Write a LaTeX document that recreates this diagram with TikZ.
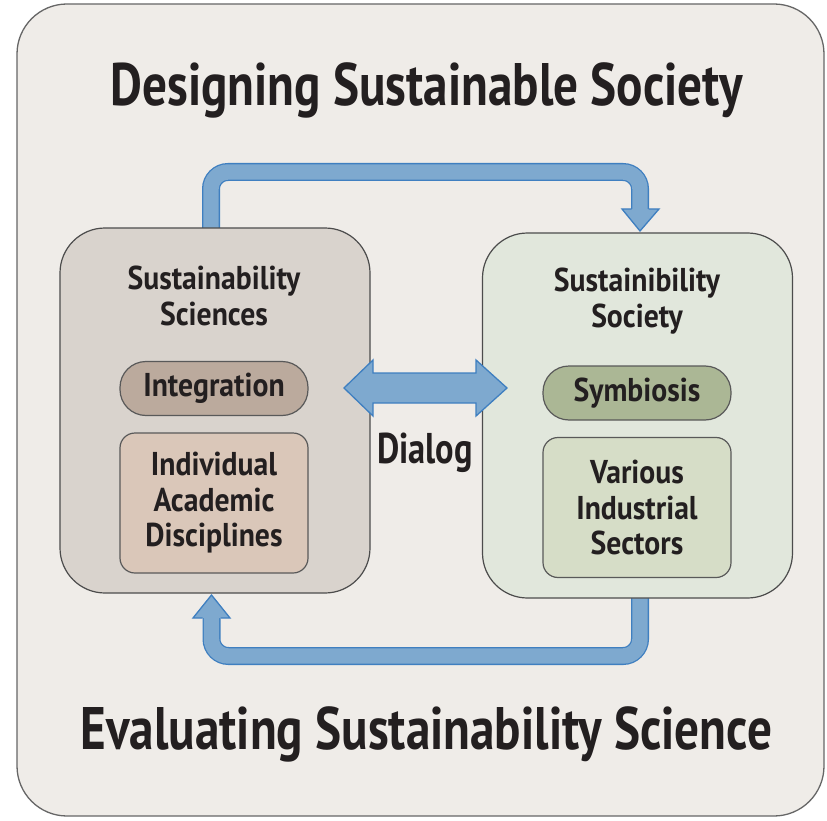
\documentclass[tikz,border=0pt]{standalone}
\usepackage{fontspec}
\setmainfont{PT Sans}[FakeStretch=0.8]
\newfontfamily\boxff{PT Sans}[FakeStretch=0.9]
\newfontfamily\titff{PT Sans}[FakeStretch=0.82]
\newfontfamily\dlgff{PT Sans}[FakeStretch=0.8]
\definecolor{bgc}{HTML}{EFECE8}
\definecolor{lboxc}{HTML}{D9D3CD}
\definecolor{intc}{HTML}{BBAA9D}
\definecolor{indc}{HTML}{DAC7B9}
\definecolor{rboxc}{HTML}{E1E7DC}
\definecolor{symc}{HTML}{ABB795}
\definecolor{varc}{HTML}{D6DDC7}
\definecolor{arrfill}{HTML}{7EA9CF}
\definecolor{arredge}{HTML}{3F7FC0}
\definecolor{txtc}{HTML}{231F20}
\newcommand\boxfont{\boxff\fontsize{33}{35.5}\selectfont\bfseries\color{txtc}}
\newcommand\titlefont{\titff\fontsize{60}{66}\selectfont\bfseries\color{txtc}}
\newcommand\dlgfont{\dlgff\fontsize{43}{46}\selectfont\bfseries\color{txtc}}
\begin{document}
\begin{tikzpicture}[x=1pt,y=-1pt,
  frame/.style={draw=black!60, line width=1.3pt, fill=bgc, rounded corners=50pt},
  bigbox/.style={draw=black!70, line width=1.2pt, rounded corners=45pt, minimum width=310pt, minimum height=365pt},
  pill/.style={draw=black!65, line width=1.2pt, rounded corners=26pt, minimum width=188pt, minimum height=54pt, font=\boxfont},
  inbox/.style={draw=black!65, line width=1.2pt, rounded corners=15pt, minimum width=188pt, minimum height=140pt, align=center, font=\boxfont},
  lbl/.style={font=\boxfont, align=center, inner sep=0pt},
  title/.style={font=\titlefont, inner sep=0pt, anchor=base},
  shaftout/.style={line width=18pt, draw=arredge, rounded corners=17pt},
  shaftin/.style={line width=15.4pt, draw=arrfill, rounded corners=17pt},
  headfill/.style={fill=arrfill},
  headedge/.style={draw=arredge, line width=1.3pt, line join=miter},
]
\useasboundingbox (0,0) rectangle (827,821);
\draw[frame] (17,4) rectangle (824,816);

\node[title] (t1) at (426.5,106) {Designing Sustainable Society};
\node[title] (t2) at (426.5,749) {Evaluating Sustainability Science};

% loop arrows (drawn beneath the boxes)
\coordinate (a1s) at (211,240);
\coordinate (a1e) at (640,209);
\coordinate (a1t) at (640,231);
\draw[shaftout] (a1s) -- (211,172) -- (640,172) -- (a1e);
\draw[shaftin] (a1s) -- (211,172) -- (640,172) -- (a1e);
\fill[headfill] (622,209) -- (a1t) -- (659,209) -- cycle;
\draw[headedge] (631.5,209) -- (622,209) -- (a1t) -- (659,209) -- (648.5,209);

\coordinate (a2s) at (640,585);
\coordinate (a2e) at (211.5,618);
\coordinate (a2t) at (211.5,595);
\draw[shaftout] (a2s) -- (640,656) -- (211.5,656) -- (a2e);
\draw[shaftin] (a2s) -- (640,656) -- (211.5,656) -- (a2e);
\fill[headfill] (193,618) -- (a2t) -- (230,618) -- cycle;
\draw[headedge] (202.5,618) -- (193,618) -- (a2t) -- (230,618) -- (220.5,618);

% left box
\node[bigbox, fill=lboxc] (L) at (215,410.5) {};
\node[lbl] (Lh) at (214,296) {Sustainability\\Sciences};
\node[pill, fill=intc] (Li) at (214,388.5) {Integration};
\node[inbox, fill=indc] (Ld) at (214,503) {Individual\\Academic\\Disciplines};

% right box
\node[bigbox, fill=rboxc] (R) at (637.5,415.5) {};
\node[lbl] (Rh) at (637,301) {Sustainibility\\Society};
\node[pill, fill=symc] (Rs) at (637,393) {Symbiosis};
\node[inbox, fill=varc] (Rv) at (637,507.5) {Various\\Industrial\\Sectors};

% dialog arrow
\filldraw[fill=arrfill, draw=arredge, line width=1.3pt, line join=miter]
  (344,388) -- (373,360) -- (373,373) -- (476,373) -- (476,360) -- (507,388)
  -- (476,416) -- (476,403) -- (373,403) -- (373,416) -- cycle;
\node[font=\dlgfont, inner sep=0pt, anchor=base] (dlg) at (425,463) {Dialog};
\end{tikzpicture}
\end{document}
